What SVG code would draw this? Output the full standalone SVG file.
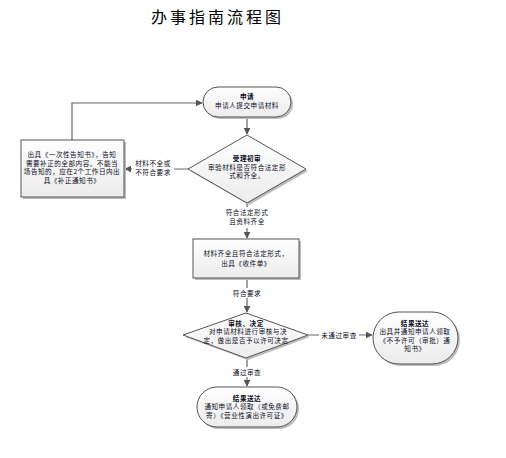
<svg xmlns="http://www.w3.org/2000/svg" width="506" height="458" viewBox="0 0 506 458">
<defs>
<linearGradient id="g" x1="0" y1="0" x2="0" y2="1">
<stop offset="0" stop-color="#ffffff"/>
<stop offset="1" stop-color="#ececec"/>
</linearGradient>
<marker id="ah" viewBox="0 0 10 10" refX="9" refY="5" markerWidth="7" markerHeight="7" orient="auto" markerUnits="userSpaceOnUse">
<path d="M0,0 L10,5 L0,10 z" fill="#555"/>
</marker>
</defs>
<style>
.shape{fill:url(#g);stroke:#555;stroke-width:1}
.shadow{fill:#bdbdbd;stroke:none}
.t{font-family:"Noto Sans CJK SC","Liberation Sans",sans-serif;font-size:6.6px;letter-spacing:0.5px;fill:#0a0a1a;text-anchor:middle}
.b{font-weight:bold}
.lbl{font-family:"Noto Sans CJK SC","Liberation Sans",sans-serif;font-size:6.6px;letter-spacing:0.5px;fill:#0a0a1a;text-anchor:middle}
.c{fill:none;stroke:#666;stroke-width:1.2}
.title{font-family:"Noto Sans CJK SC","Liberation Sans",sans-serif;font-size:16px;fill:#000;letter-spacing:3px}
</style>
<rect width="506" height="458" fill="#fff"/>
<text class="title" x="151" y="23">办事指南流程图</text>

<g id="connectors">
<path class="c" d="M247,117 L247,134" marker-end="url(#ah)"/>
<path class="c" d="M188,169 L125,169" marker-end="url(#ah)"/>
<path class="c" d="M72,140 L72,103 L202,103" marker-end="url(#ah)"/>
<path class="c" d="M247,203 L247,238" marker-end="url(#ah)"/>
<path class="c" d="M247,278 L247,312" marker-end="url(#ah)"/>
<path class="c" d="M308,335 L372,335" marker-end="url(#ah)"/>
<path class="c" d="M247,358 L247,386" marker-end="url(#ah)"/>
<rect x="132" y="159" width="42" height="19" fill="#fff"/>
<text class="lbl" x="153" y="166">材料不全或</text>
<text class="lbl" x="153" y="175">不符合要求</text>
<rect x="222" y="207" width="50" height="21" fill="#fff"/>
<text class="lbl" x="247" y="215">符合法定形式</text>
<text class="lbl" x="247" y="224">且资料齐全</text>
<rect x="229" y="288" width="36" height="10" fill="#fff"/>
<text class="lbl" x="247" y="296">符合要求</text>
<rect x="319" y="330" width="40" height="10" fill="#fff"/>
<text class="lbl" x="339" y="338">未通过审查</text>
<rect x="229" y="367" width="36" height="10" fill="#fff"/>
<text class="lbl" x="247" y="375">通过审查</text>
</g>

<g id="n-apply">
<rect class="shadow" x="205" y="89" width="88" height="30" rx="15"/>
<rect class="shape" x="203" y="87" width="88" height="30" rx="15"/>
<text class="t b" x="247" y="99">申请</text>
<text class="t" x="247" y="108">申请人提交申请材料</text>
</g>

<g id="n-check">
<polygon class="shadow" points="249,137 308,171 249,205 190,171"/>
<polygon class="shape" points="247,135 306,169 247,203 188,169"/>
<text class="t b" x="247" y="161">受理初审</text>
<text class="t" x="247" y="169.5">审验材料是否符合法定形</text>
<text class="t" x="247" y="178">式和齐全。</text>
</g>

<g id="n-notice">
<rect class="shadow" x="23" y="142" width="103" height="57"/>
<rect class="shape" x="21" y="140" width="103" height="57"/>
<text class="t" x="72" y="157">出具《一次性告知书》，告知</text>
<text class="t" x="72" y="165.5">需要补正的全部内容。不能当</text>
<text class="t" x="72" y="174">场告知的，应在2个工作日内出</text>
<text class="t" x="72" y="182.5">具《补正通知书》</text>
</g>

<g id="n-receipt">
<rect class="shadow" x="195" y="241" width="106" height="39"/>
<rect class="shape" x="193" y="239" width="106" height="39"/>
<text class="t" x="246" y="256">材料齐全且符合法定形式，</text>
<text class="t" x="246" y="266">出具《收件单》</text>
</g>

<g id="n-review">
<polygon class="shadow" points="248,315 310,337 248,360 185,337"/>
<polygon class="shape" points="246,313 308,335 246,358 183,335"/>
<text class="t b" x="246" y="325.5">审核、决定</text>
<text class="t" x="248" y="334">对申请材料进行审核与决</text>
<text class="t" x="246" y="342.5">定，做出是否予以许可决定</text>
</g>

<g id="n-reject">
<rect class="shadow" x="375" y="314" width="85" height="52" rx="26"/>
<rect class="shape" x="373" y="312" width="85" height="52" rx="26"/>
<text class="t b" x="415" y="325.5">结果送达</text>
<text class="t" x="415" y="334">出具并通知申请人领取</text>
<text class="t" x="415" y="342.5">《不予许可（审批）通</text>
<text class="t" x="415" y="351">知书》</text>
</g>

<g id="n-result">
<rect class="shadow" x="199" y="389" width="100" height="40" rx="20"/>
<rect class="shape" x="197" y="387" width="100" height="40" rx="20"/>
<text class="t b" x="247" y="400.5">结果送达</text>
<text class="t" x="247" y="409">通知申请人领取（或免费邮</text>
<text class="t" x="247" y="417.5">寄）《营业性演出许可证》</text>
</g>
</svg>
